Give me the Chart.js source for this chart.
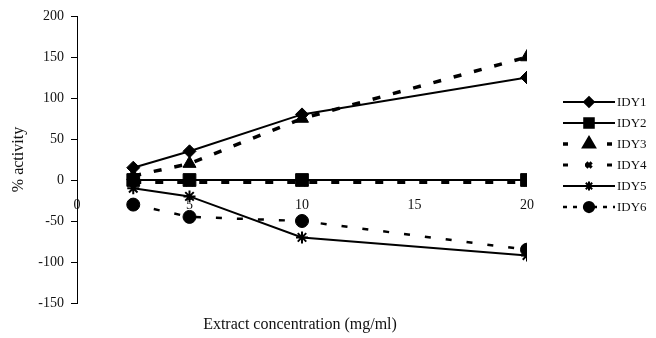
<!DOCTYPE html>
<html>
<head>
<meta charset="utf-8">
<script src="https://cdn.jsdelivr.net/npm/chart.js@4.4.0/dist/chart.umd.min.js"></script>
<style>
  html, body { margin: 0; padding: 0; background: #fff; }
</style>
</head>
<body>
<canvas id="myChart" width="656" height="338"></canvas>
<script>
// Data
const concentrations = [2.5, 5, 10, 20];
const idy1 = [15, 35, 80, 125];
const idy2 = [0, 0, 0, 0];
const idy3 = [5, 20, 75, 150];
const idy4 = [-3, -3, -3, -3];
const idy5 = [-10, -20, -70, -92];
const idy6 = [-30, -45, -50, -85];
const seriesNames = ['IDY1', 'IDY2', 'IDY3', 'IDY4', 'IDY5', 'IDY6'];
const xTicks = [0, 5, 10, 15, 20];
const yTicks = [-150, -100, -50, 0, 50, 100, 150, 200];

const FONT = '"Liberation Serif", "Times New Roman", serif';

function toPoints(values) {
  return values.map((v, i) => ({ x: concentrations[i], y: v }));
}

function makeSet(name, values, style, radius, dash, width, legendDash) {
  return {
    label: name,
    data: toPoints(values),
    borderColor: '#000',
    backgroundColor: '#000',
    pointBackgroundColor: '#000',
    pointBorderColor: '#000',
    borderWidth: width,
    borderDash: dash,
    legendDash: legendDash,
    pointStyle: style,
    pointRadius: radius,
    pointBorderWidth: style === 'star' || style === 'crossRot' ? 2 : 1,
    tension: 0
  };
}

const datasets = [
  makeSet(seriesNames[0], idy1, 'rectRot', 6.5, [], 2, []),
  makeSet(seriesNames[1], idy2, 'rect', 9, [], 2, []),
  makeSet(seriesNames[2], idy3, 'triangle', 7.5, [8, 13], 3.5, [5, 17]),
  makeSet(seriesNames[3], idy4, 'crossRot', 5, [8, 14], 3, [5, 17]),
  makeSet(seriesNames[4], idy5, 'star', 6, [], 2, []),
  makeSet(seriesNames[5], idy6, 'circle', 6.5, [6, 15], 2.5, [4, 6])
];

// legend on the right: line + marker + name
const sideLegend = {
  id: 'sideLegend',
  afterDraw(chart) {
    const ctx = chart.ctx;
    const x0 = chart.chartArea.right + 36;
    const x1 = x0 + 52;
    const top = 102;
    const gap = 21;
    chart.data.datasets.forEach((ds, i) => {
      const y = top + i * gap;
      ctx.save();
      ctx.strokeStyle = '#000';
      ctx.fillStyle = '#000';
      ctx.lineWidth = ds.borderWidth;
      ctx.setLineDash(ds.legendDash);
      ctx.beginPath();
      ctx.moveTo(x0, y);
      ctx.lineTo(x1, y);
      ctx.stroke();
      ctx.setLineDash([]);
      Chart.helpers.drawPoint(ctx, {
        pointStyle: ds.pointStyle,
        radius: ds.pointRadius * 0.75,
        borderWidth: ds.pointBorderWidth
      }, (x0 + x1) / 2, y);
      ctx.fillStyle = '#111';
      ctx.font = '13px ' + FONT;
      ctx.textBaseline = 'middle';
      ctx.textAlign = 'left';
      ctx.fillText(ds.label, x1 + 2, y + 1);
      ctx.restore();
    });
  }
};

// x axis title sits at the bottom while the axis itself runs along y = 0
const bottomTitle = {
  id: 'bottomTitle',
  afterDraw(chart) {
    const ctx = chart.ctx;
    const area = chart.chartArea;
    ctx.save();
    ctx.fillStyle = '#111';
    ctx.font = '16px ' + FONT;
    ctx.textAlign = 'center';
    ctx.textBaseline = 'middle';
    ctx.fillText('Extract concentration (mg/ml)', (area.left + area.right) / 2 - 2, 325);
    ctx.restore();
  }
};

const ctx = document.getElementById('myChart').getContext('2d');
const myChart = new Chart(ctx, {
  type: 'line',
  data: { datasets: datasets },
  plugins: [sideLegend, bottomTitle],
  options: {
    responsive: false,
    animation: false,
    layout: { padding: { left: 0, top: 16, right: 129, bottom: 35 } },
    plugins: { legend: { display: false }, tooltip: { enabled: false } },
    scales: {
      x: {
        type: 'linear',
        position: { y: 0 },
        min: 0,
        max: 20,
        afterBuildTicks: (scale) => { scale.ticks = xTicks.map(v => ({ value: v })); },
        grid: { display: false, drawTicks: false },
        border: { display: false },
        ticks: { color: '#111', padding: 17, font: { family: FONT, size: 14 } }
      },
      y: {
        min: -150,
        max: 200,
        afterBuildTicks: (scale) => { scale.ticks = yTicks.map(v => ({ value: v })); },
        afterFit: (scale) => { scale.width = 77; },
        grid: { drawOnChartArea: false, drawTicks: true, tickLength: 6, color: '#000' },
        border: { display: true, color: '#000', width: 1 },
        ticks: { color: '#111', padding: 7, font: { family: FONT, size: 14 } },
        title: {
          display: true,
          text: '% activity',
          color: '#111',
          padding: { top: 9, bottom: 0 },
          font: { family: FONT, size: 16 }
        }
      }
    }
  }
});
</script>
</body>
</html>
